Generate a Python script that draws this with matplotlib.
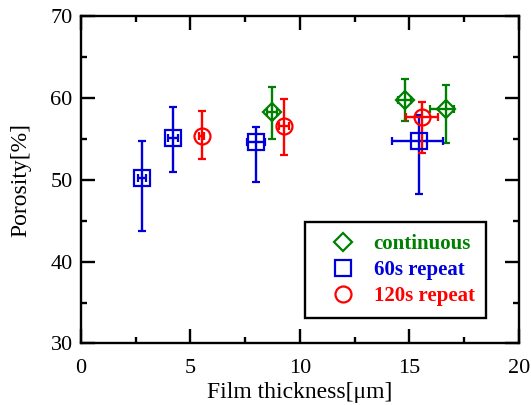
import matplotlib
matplotlib.use('Agg')
import matplotlib.pyplot as plt
from matplotlib.ticker import MultipleLocator

plt.rcParams['font.family'] = ['Liberation Serif', 'DejaVu Serif']

# continuous
cont_x = [8.71, 14.79, 16.65]
cont_y = [58.2, 59.7, 58.6]
cont_xerr_lo = [0.23, 0.30, 0.71]
cont_xerr_hi = [0.23, 0.30, 0.38]
cont_yerr_lo = [3.3, 2.6, 4.1]
cont_yerr_hi = [3.05, 2.6, 2.9]

# 60s repeat
r60_x = [2.80, 4.21, 7.98, 15.45]
r60_y = [50.15, 55.05, 54.6, 54.7]
r60_xerr_lo = [0.19, 0.23, 0.40, 1.25]
r60_xerr_hi = [0.19, 0.23, 0.40, 1.09]
r60_yerr_lo = [6.4, 4.1, 4.9, 6.5]
r60_yerr_hi = [4.55, 3.85, 1.8, 3.2]

# 120s repeat
r120_x = [5.51, 9.27, 15.56]
r120_y = [55.35, 56.55, 57.6]
r120_xerr_lo = [0.12, 0.25, 0.72]
r120_xerr_hi = [0.12, 0.25, 0.72]
r120_yerr_lo = [2.85, 3.5, 4.3]
r120_yerr_hi = [3.05, 3.3, 1.85]

labels = ['continuous', '60s repeat', '120s repeat']
green = '#008000'
blue = '#0000dd'
red = '#ff0000'

fig = plt.figure(figsize=(5.31, 4.05), dpi=100)
ax = fig.add_axes([0.1525, 0.1519, 0.8249, 0.8094])

common = dict(linestyle='none', markersize=11.5, markeredgewidth=1.6,
              markerfacecolor='none', elinewidth=1.7, capsize=2.8, capthick=1.7)

e1 = ax.errorbar(cont_x, cont_y, xerr=[cont_xerr_lo, cont_xerr_hi],
                 yerr=[cont_yerr_lo, cont_yerr_hi], marker='D', color=green,
                 **dict(common, markersize=9))
e2 = ax.errorbar(r60_x, r60_y, xerr=[r60_xerr_lo, r60_xerr_hi],
                 yerr=[r60_yerr_lo, r60_yerr_hi], marker='s', color=blue,
                 **common)
e3 = ax.errorbar(r120_x, r120_y, xerr=[r120_xerr_lo, r120_xerr_hi],
                 yerr=[r120_yerr_lo, r120_yerr_hi], marker='o', color=red,
                 **common)

ax.set_xlim(0, 20)
ax.set_ylim(30, 70)
ax.xaxis.set_major_locator(MultipleLocator(5))
ax.xaxis.set_minor_locator(MultipleLocator(2.5))
ax.yaxis.set_major_locator(MultipleLocator(10))
ax.yaxis.set_minor_locator(MultipleLocator(5))
ax.tick_params(which='both', direction='in', top=True, right=True,
               width=1.7, labelsize=16)
ax.tick_params(axis='x', which='both', pad=11)
ax.tick_params(axis='y', which='both', pad=6)
ax.tick_params(which='major', length=10)
ax.tick_params(which='minor', length=4.5)
for s in ax.spines.values():
    s.set_linewidth(1.7)

ax.set_xlabel('Film thickness[\u03bcm]', fontsize=17)
ax.set_ylabel('Porosity[%]', fontsize=17)
ax.xaxis.set_label_coords(0.5, -0.117)
ax.yaxis.set_label_coords(-0.113, 0.5)

leg = ax.legend([e1[0], e2[0], e3[0]], labels, numpoints=1,
                loc='lower right', bbox_to_anchor=(0.925, 0.078),
                fancybox=False, framealpha=1, edgecolor='black',
                prop={'weight': 'bold', 'size': 15}, labelspacing=0.3,
                handlelength=2.6, handletextpad=0.15, borderpad=0.55,
                borderaxespad=0)
leg.get_frame().set_linewidth(1.7)
for t, c in zip(leg.get_texts(), [green, blue, red]):
    t.set_color(c)

plt.savefig('out.png', dpi=100)
